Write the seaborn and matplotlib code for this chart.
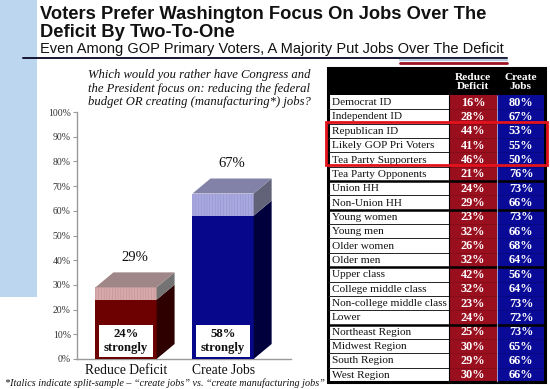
import matplotlib
matplotlib.use("Agg")
import matplotlib.pyplot as plt
import seaborn as sns
import pandas as pd
from matplotlib.patches import Polygon, Rectangle
from matplotlib.lines import Line2D

# ---------------- data ----------------
bar_categories = ["Reduce Deficit", "Create Jobs"]
bar_total = [29, 67]
bar_strong = [24, 58]
y_ticks = [0, 10, 20, 30, 40, 50, 60, 70, 80, 90, 100]

row_labels = ["Democrat ID", "Independent ID", "Republican ID", "Likely GOP Pri Voters",
              "Tea Party Supporters", "Tea Party Opponents", "Union HH", "Non-Union HH",
              "Young women", "Young men", "Older women", "Older men", "Upper class",
              "College middle class", "Non-college middle class", "Lower",
              "Northeast Region", "Midwest Region", "South Region", "West Region"]
reduce_deficit = [16, 28, 44, 41, 46, 21, 24, 29, 23, 32, 26, 32, 42, 32, 23, 24, 25, 30, 29, 30]
create_jobs = [80, 67, 53, 55, 50, 76, 73, 66, 73, 66, 68, 64, 56, 64, 73, 72, 73, 65, 66, 66]
group_breaks = [6, 8, 12, 16]
highlight_rows = (2, 5)
col_headers = ["Reduce\nDeficit", "Create\nJobs"]

title_lines = ["Voters Prefer Washington Focus On Jobs Over The", "Deficit By Two-To-One"]
subtitle = "Even Among GOP Primary Voters, A Majority Put Jobs Over The Deficit"
question_lines = ["Which would you rather have Congress and",
                  "the President focus on: reducing the federal",
                  "budget OR creating (manufacturing*) jobs?"]
footnote = "*Italics indicate split-sample \u2013 \u201ccreate jobs\u201d vs. \u201ccreate manufacturing jobs\u201d"

# ---------------- style ----------------
sns.set_theme(style="white")
plt.rcParams["font.family"] = ["Liberation Serif", "DejaVu Serif"]
plt.rcParams["hatch.linewidth"] = 0.35

W, H = 550, 389
fig = plt.figure(figsize=(W / 100, H / 100), dpi=100)
fig.patch.set_facecolor("white")


def fx(x):
    return x / W


def fy(y):
    return 1 - y / H


SANS = ["Liberation Sans", "DejaVu Sans"]
SERIF = ["Liberation Serif", "DejaVu Serif"]

# left light-blue stripe
fig.add_artist(Rectangle((0, fy(297)), fx(37), 297 / H, transform=fig.transFigure,
                         facecolor="#BDD6F0", edgecolor="none", zorder=0))

# titles
fig.text(fx(40), fy(19), title_lines[0], family=SANS, weight="bold", fontsize=13.2,
         va="baseline", ha="left", color="#111111")
fig.text(fx(40), fy(37), title_lines[1], family=SANS, weight="bold", fontsize=13.2,
         va="baseline", ha="left", color="#111111")
fig.text(fx(40), fy(53), subtitle, family=SANS, fontsize=10.5,
         va="baseline", ha="left", color="#111111")
fig.add_artist(Line2D([fx(23), fx(507)], [fy(57.5), fy(57.5)], transform=fig.transFigure,
                      color="#151530", lw=1.4))
fig.add_artist(Line2D([fx(400), fx(507)], [fy(59.5), fy(59.5)], transform=fig.transFigure,
                      color="#B9CCE2", lw=1.6))
fig.add_artist(Line2D([fx(400), fx(507)], [fy(62.8), fy(62.8)], transform=fig.transFigure,
                      color="#9E1424", lw=2.0))

# question
for k, line in enumerate(question_lines):
    fig.text(fx(88), fy(78 + 13.7 * k), line, family=SERIF, style="italic",
             fontsize=9.1, va="baseline", ha="left", color="#111111")

fig.text(fx(5), fy(386), footnote, family=SERIF, style="italic", fontsize=7.3,
         va="baseline", ha="left", color="#111111")

# ---------------- bar chart ----------------
ax = fig.add_axes([fx(77), 30 / H, 214 / W, 247 / H])
ax.set_facecolor("none")
df = pd.DataFrame({"cat": bar_categories, "total": bar_total, "strong": bar_strong})
light_cols = ["#D7A9AA", "#A9A9E0"]
dark_cols = ["#6D0000", "#07078C"]
hatch_cols = ["#C08F91", "#9090CC"]
side_light = ["#737373", "#626279"]
side_dark = ["#2E0000", "#00003C"]
top_cols = ["#9F8687", "#8282A8"]

bw = 0.63
sns.barplot(data=df, x="cat", y="total", hue="cat", palette=light_cols, width=bw,
            saturation=1, ax=ax, legend=False, linewidth=0, zorder=2)
for k, p in enumerate(ax.patches):
    p.set_hatch("||||||")
    p.set_edgecolor(hatch_cols[k])
    p.set_linewidth(0)
sns.barplot(data=df, x="cat", y="strong", hue="cat", palette=dark_cols, width=bw,
            saturation=1, ax=ax, legend=False, linewidth=0, zorder=3)

xmin, xmax = -0.505, 1.7
ax.set_xlim(xmin, xmax)
ax.set_ylim(0, 100)
ax_w_px = 214
ddx = 18 * (xmax - xmin) / ax_w_px
ddy = 15 * 100 / 247

for i in range(len(bar_categories)):
    x0, x1 = i - bw / 2, i + bw / 2
    t, s = bar_total[i], bar_strong[i]
    ax.add_patch(Polygon([(x1, 0), (x1, s), (x1 + ddx, s + ddy), (x1 + ddx, ddy)],
                         closed=True, facecolor=side_dark[i], edgecolor="none", zorder=3))
    ax.add_patch(Polygon([(x1, s), (x1, t), (x1 + ddx, t + ddy), (x1 + ddx, s + ddy)],
                         closed=True, facecolor=side_light[i], edgecolor="none", zorder=3))
    ax.add_patch(Polygon([(x0, t), (x1, t), (x1 + ddx, t + ddy), (x0 + ddx, t + ddy)],
                         closed=True, facecolor=top_cols[i], edgecolor="none", zorder=3))
    ax.text(i + ddx / 2, t + ddy + 6, f"{t}%", ha="center", va="center",
            fontsize=10.5, family=SERIF, color="#111111")
    ax.add_patch(Rectangle((i - 0.278, 1.0), 0.556, 12.6, facecolor="white",
                           edgecolor="none", zorder=4))
    ax.text(i, 7.3, f"{s}%\nstrongly", ha="center", va="center", fontsize=9.2,
            weight="bold", family=SERIF, color="#111111", linespacing=1.15, zorder=5)

ax.set_xlabel("")
ax.set_ylabel("")
ax.set_yticks(y_ticks)
ax.set_yticklabels([f"{v}%" for v in y_ticks], fontsize=7, color="#333333", family=SERIF)
ax.tick_params(axis="y", length=3, width=0.8, color="#999999", pad=1.5, left=True)
ax.tick_params(axis="x", length=0, pad=3.5, labelsize=9.8, labelcolor="#111111")
for lab in ax.get_xticklabels():
    lab.set_family(SERIF)
for side in ["top", "right"]:
    ax.spines[side].set_visible(False)
for side in ["left", "bottom"]:
    ax.spines[side].set_color("#9A9A9A")
    ax.spines[side].set_linewidth(1.0)

# ---------------- table ----------------
n = len(row_labels)
row_px = 14.35
hdr = 27 / row_px
tax = fig.add_axes([fx(328), (H - 382) / H, 217 / W, 314 / H])
tax.set_xlim(0, 217)
tax.set_ylim(n, -hdr)
tax.axis("off")
c1, c2, c3 = 121, 169, 217
tax.add_patch(Rectangle((0, 0), c1, n, facecolor="white", edgecolor="none"))
tax.add_patch(Rectangle((c1, 0), c2 - c1, n, facecolor="#9A0F1E", edgecolor="none"))
tax.add_patch(Rectangle((c2, 0), c3 - c2, n, facecolor="#0A0A98", edgecolor="none"))
tax.add_patch(Rectangle((0, -hdr), c3, hdr, facecolor="black", edgecolor="none"))
for j, h in enumerate(col_headers):
    cx = (c1 + c2) / 2 if j == 0 else (c2 + c3) / 2
    tax.text(cx, -hdr / 2 + 0.05, h, ha="center", va="center", color="white",
             weight="bold", fontsize=8.2, family=SERIF, linespacing=0.95)

for i, lab in enumerate(row_labels):
    tax.text(3.5, i + 0.53, lab, ha="left", va="center", fontsize=8.1, family=SERIF,
             color="#111111")
    tax.text((c1 + c2) / 2, i + 0.53, f"{reduce_deficit[i]}%", ha="center", va="center",
             fontsize=8.8, weight="bold", family=SERIF, color="white")
    tax.text((c2 + c3) / 2, i + 0.53, f"{create_jobs[i]}%", ha="center", va="center",
             fontsize=8.8, weight="bold", family=SERIF, color="white")

tax.hlines(range(1, n), 0, c1, colors="#222222", lw=0.7)
tax.hlines(range(1, n), c1, c3, colors="#00000030", lw=0.5)
tax.hlines(group_breaks, 0, c3, colors="black", lw=1.8)
tax.vlines(c1, 0, n, colors="black", lw=0.8)
tax.vlines(c2, 0, n, colors="#D8D8E8", lw=0.5)
tax.add_patch(Rectangle((0, -hdr), c3, n + hdr, fill=False, edgecolor="black", lw=2.2,
                        clip_on=False))
r0, r1 = highlight_rows
tax.add_patch(Rectangle((-2, r0 - 0.12), c3 + 4, (r1 - r0) + 0.02, fill=False,
                        edgecolor="#E3121C", lw=2.0, clip_on=False, zorder=6))

fig.savefig("out.png", dpi=100)
